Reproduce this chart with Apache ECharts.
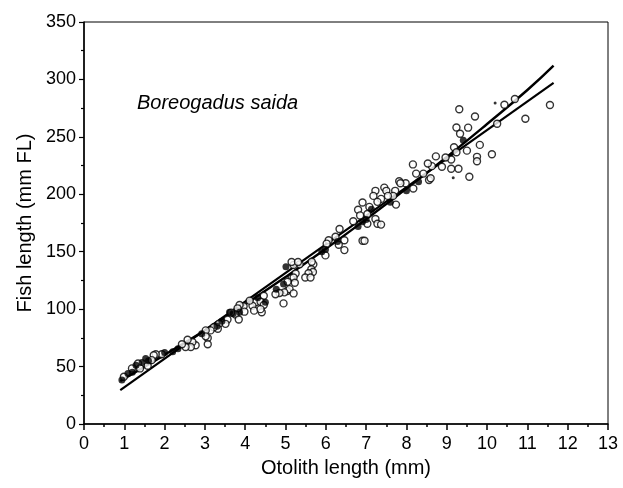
<!DOCTYPE html>
<html>
<head>
<meta charset="utf-8">
<script src="https://cdn.jsdelivr.net/npm/echarts@6/dist/echarts.min.js"></script>
<style>
  html, body { margin: 0; padding: 0; background: #fff; }
  #chart { width: 623px; height: 488px; }
</style>
</head>
<body>
<div id="chart"></div>
<script>
// axis ticks
const xTicks = [0, 13, 1];
const yTicks = [0, 350, 50];

// open circles (otolith mm, fish length mm FL)
const openPts = [
  [11.56,277.8],[10.95,265.7],[10.69,283],[10.43,278],[10.25,261.4],[10.12,234.9],
  [9.70,267.7],[9.75,232.6],[9.75,228.8],[9.82,243],[9.56,215.3],[9.31,274],
  [9.24,258.2],[9.53,258],[9.33,252.7],[9.5,238],[9.18,241],[9.24,236.6],
  [9.11,230.3],[9.29,222.2],[9.11,222.2],[8.97,232],[8.88,224],[8.73,233],
  [8.63,224.5],[8.53,226.8],[8.42,218],[8.56,212.4],[8.6,214],[8.16,226],[8.24,218],
  [8.17,205],[7.98,209.6],[7.82,211.3],[7.85,209.6],[7.72,203],[7.67,198.6],
  [7.74,191],[7.45,205.8],[7.5,203],[7.54,198.6],[7.23,203],[7.18,198.6],
  [7.37,196],[7.28,193.4],[7.08,189],[6.91,192.9],[6.80,186.5],[6.85,181.6],
  [7.03,182.8],[7.23,178.5],[7.28,174.4],[7.37,173.6],[7.03,174.4],[6.68,176.5],
  [6.91,159.5],[6.96,159.5],[6.34,169.8],[6.24,163],[6.46,160],[6.32,156],
  [6.46,151.4],[6.07,160],[6.02,157],[5.99,146.8],[5.69,139],[5.64,134.7],
  [5.68,132.4],[5.57,131.2],[5.49,127.5],[5.62,127.5],[5.35,139],[5.2,138.5],
  [5.15,141],[5.31,141],[5.65,141.3],[5.15,127],[5.04,115.8],
  [5.25,131],[5.2,127.5],[5.23,123],[5.05,123.8],[5.1,117.4],[5.2,113.7],
  [4.97,114.6],[4.85,114],[4.75,113],[4.95,105],[4.46,111.7],[4.26,106],
  [4.38,106.5],[4.46,103.6],[4.18,103],[4.11,107.4],[4.22,98.7],[4.41,97.3],
  [4.38,100],[3.96,102.5],[3.86,103.6],[3.81,100.7],[3.76,95.3],[3.84,91],
  [3.98,97.8],[3.56,91],[3.51,87.2],[3.65,97],[3.35,87.2],[3.32,82.9],[3.22,84.3],
  [3.14,81.5],[3.02,81.5],[3.07,74.8],[3.02,76.3],[3.07,69.4],[2.77,68.5],
  [2.69,71.4],[2.57,73.4],[2.65,67],[2.52,67],[2.43,69.4],[1.93,60.7],
  [1.78,60.7],[1.73,59.9],[1.68,55.6],[1.34,52.7],[1.19,48.4],[0.99,41.2],
  [1.39,48.4],[1.58,50.7]
];

// filled dots
const filledPts = [
  [7.13,187],[6.91,176],[6.29,159],[5.99,152],[5.01,137],[4.95,121.8],
  [4.77,117.4],[4.31,110],[3.86,97.3],[3.61,97.3],[3.42,89.5],[2.92,78.6],
  [2.33,65.6],[2.0,62.2],[1.53,57],[1.44,53.5],[1.29,51.2],[1.09,44],
  [0.94,38.3],[9.41,247],[8.3,211],[7.6,193],[1.2,45],[1.6,55],[2.2,63],
  [3.3,85],[3.7,96],[4.5,106],[5.9,150],[6.8,172],[7.0,178],[8.0,203]
];
const tinyPts = [[10.2,279.5],[9.16,214.5]];

// fitted relationships
const straightFit = [[0.9,29.5],[11.65,297]];
const curveFit = [
  [0.9,37.5],[2,60.2],[3,81.7],[4,104.4],[5,128],[6,152.6],
  [7,178.3],[8,204.9],[9,232.5],[10,261.2],[11,290.8],[11.65,312]
];

const chart = echarts.init(document.getElementById('chart'));
const font = '"Liberation Sans", Arial, sans-serif';

chart.setOption({
  animation: false,
  grid: { left: 84, right: 15, top: 22, bottom: 64, show: true, borderColor: '#000', borderWidth: 1 },
  xAxis: {
    type: 'value', min: xTicks[0], max: xTicks[1], interval: xTicks[2],
    name: 'Otolith length (mm)', nameLocation: 'middle', nameGap: 34,
    nameTextStyle: { fontFamily: font, fontSize: 20, color: '#000' },
    axisLine: { show: true, lineStyle: { color: '#000', width: 1.5 } },
    axisTick: { show: true, length: 6, lineStyle: { color: '#000', width: 1.5 } },
    minorTick: { show: true, splitNumber: 2, length: 3, lineStyle: { color: '#000', width: 1.5 } },
    axisLabel: { fontFamily: font, fontSize: 18, color: '#000', margin: 11 },
    splitLine: { show: false }
  },
  yAxis: {
    type: 'value', min: yTicks[0], max: yTicks[1], interval: yTicks[2],
    name: 'Fish length (mm FL)', nameLocation: 'middle', nameGap: 48,
    nameTextStyle: { fontFamily: font, fontSize: 20, color: '#000' },
    axisLine: { show: true, lineStyle: { color: '#000', width: 1.5 } },
    axisTick: { show: true, length: 5, lineStyle: { color: '#000', width: 1.2 } },
    minorTick: { show: true, splitNumber: 2, length: 3, lineStyle: { color: '#000', width: 1.2 } },
    axisLabel: { fontFamily: font, fontSize: 18, color: '#000', margin: 8 },
    splitLine: { show: false }
  },
  graphic: [{
    type: 'text', left: 137, top: 93,
    style: { text: 'Boreogadus saida', font: 'italic 20px "Liberation Sans", Arial, sans-serif', fill: '#000' }
  }],
  series: [
    {
      type: 'line', data: straightFit, symbol: 'none', z: 3,
      lineStyle: { color: '#000', width: 2.2 }
    },
    {
      type: 'line', data: curveFit, symbol: 'none', smooth: true, z: 3,
      lineStyle: { color: '#000', width: 2.4 }
    },
    {
      type: 'scatter', data: openPts, symbol: 'circle', symbolSize: 7, z: 4,
      itemStyle: { color: '#fff', borderColor: '#000', borderWidth: 1.4 }
    },
    {
      type: 'scatter', data: filledPts, symbol: 'circle', symbolSize: 7, z: 5,
      itemStyle: { color: '#000' }
    },
    {
      type: 'scatter', data: tinyPts, symbol: 'circle', symbolSize: 3, z: 5,
      itemStyle: { color: '#000' }
    }
  ]
});
</script>
</body>
</html>
